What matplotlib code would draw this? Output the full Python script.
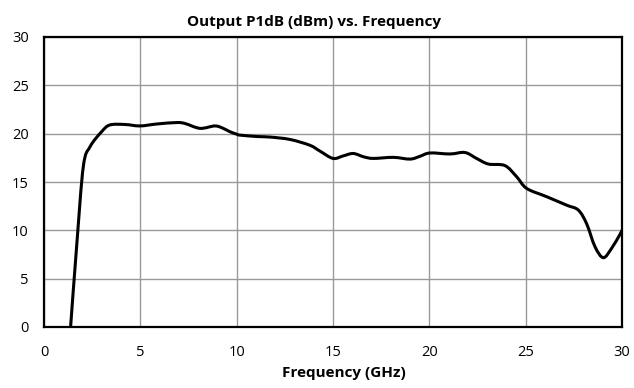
import matplotlib
matplotlib.use("Agg")
import matplotlib.pyplot as plt
import numpy as np
from matplotlib.path import Path
from matplotlib.patches import PathPatch

freq_ghz = [1.38, 1.7, 2.04, 2.39, 2.99, 3.42, 4.2, 4.98, 5.85, 6.88, 7.32, 8.1, 8.87,
             9.3, 9.65, 10.0, 10.17, 11.1, 11.73, 12.77, 13.8, 14.32, 15.0, 15.53, 16.05,
             16.6, 17.09, 18.13, 19.0, 19.5, 20.03, 21.07, 21.85, 22.45, 23.06, 23.92,
             24.53, 25.05, 26.09, 27.13, 27.73, 28.16, 28.6, 29.03, 29.46, 29.9, 30.0]
p1db_dbm = [0.0, 8.5, 16.6, 18.65, 20.2, 20.9, 20.95, 20.8, 21.0, 21.15, 21.05, 20.55, 20.8,
            20.55, 20.2, 19.95, 19.85, 19.7, 19.65, 19.4, 18.8, 18.2, 17.44, 17.7, 17.95,
            17.6, 17.44, 17.55, 17.37, 17.65, 18.0, 17.9, 18.05, 17.44, 16.86, 16.7,
            15.55, 14.34, 13.48, 12.6, 12.1, 10.7, 8.3, 7.17, 8.14, 9.6, 10.0]

x_ticks = [0, 5, 10, 15, 20, 25, 30]
y_ticks = [0, 5, 10, 15, 20, 25, 30]

plt.rcParams['font.family'] = ['Open Sans', 'DejaVu Sans']

fig = plt.figure(figsize=(6.34, 3.88), dpi=100)
ax = fig.add_axes([44/634, 1-327/388, (622-44)/634, (327-37)/388])


def smooth_path(xs, ys):
    # Excel-like smoothed line: Catmull-Rom segments drawn as cubic Bezier curves
    P = np.column_stack([xs, ys]).astype(float)
    n = len(P)
    verts = [P[0]]
    codes = [Path.MOVETO]
    for i in range(n - 1):
        p0 = P[i - 1] if i > 0 else P[i]
        p1 = P[i]
        p2 = P[i + 1]
        p3 = P[i + 2] if i + 2 < n else P[i + 1]
        c1 = p1 + (p2 - p0) / 6.0
        c2 = p2 - (p3 - p1) / 6.0
        verts += [c1, c2, p2]
        codes += [Path.CURVE4] * 3
    return Path(verts, codes)


patch = PathPatch(smooth_path(freq_ghz, p1db_dbm), facecolor='none', edgecolor='black',
                  linewidth=2.2, capstyle='round', joinstyle='round', zorder=3,
                  transform=ax.transData)
ax.add_patch(patch)

ax.set_xlim(0, 30)
ax.set_ylim(0, 30)
ax.set_xticks(x_ticks)
ax.set_yticks(y_ticks)
ax.grid(True, color='#999999', linewidth=1.0)
ax.tick_params(axis='y', length=0, labelsize=10.5, pad=11)
ax.tick_params(axis='x', length=0, labelsize=10.5, pad=13)
for s in ax.spines.values():
    s.set_color('black')
    s.set_linewidth(1.6)
ax.set_axisbelow(True)

ax.set_title('Output P1dB (dBm) vs. Frequency', fontsize=11, fontweight='bold', pad=8,
             x=0.467)
ax.set_xlabel('Frequency (GHz)', fontsize=11, fontweight='bold', labelpad=0)
ax.xaxis.set_label_coords(0.519, -0.135)

fig.savefig('out.png', dpi=100)
